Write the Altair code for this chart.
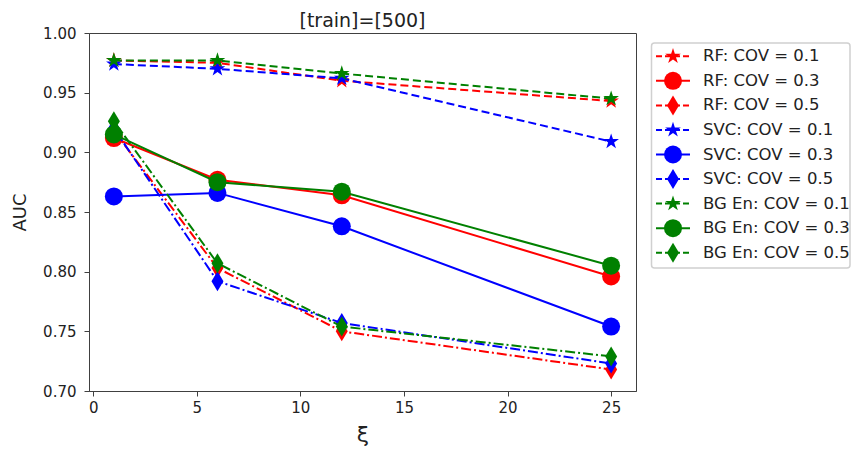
import altair as alt
import pandas as pd
import numpy as np

# ---- data ----
xi = [1, 6, 12, 25]
series_names = [
    "RF: COV = 0.1", "RF: COV = 0.3", "RF: COV = 0.5",
    "SVC: COV = 0.1", "SVC: COV = 0.3", "SVC: COV = 0.5",
    "BG En: COV = 0.1", "BG En: COV = 0.3", "BG En: COV = 0.5",
]
rf_01 = [0.977, 0.975, 0.960, 0.943]
rf_03 = [0.912, 0.877, 0.864, 0.796]
rf_05 = [0.918, 0.803, 0.750, 0.718]
svc_01 = [0.974, 0.970, 0.962, 0.909]
svc_03 = [0.863, 0.866, 0.838, 0.754]
svc_05 = [0.920, 0.792, 0.757, 0.723]
bg_01 = [0.977, 0.977, 0.966, 0.945]
bg_03 = [0.915, 0.875, 0.867, 0.805]
bg_05 = [0.926, 0.807, 0.754, 0.729]
values = [rf_01, rf_03, rf_05, svc_01, svc_03, svc_05, bg_01, bg_03, bg_05]

x_ticks = [0, 5, 10, 15, 20, 25]
y_ticks = [0.70, 0.75, 0.80, 0.85, 0.90, 0.95, 1.00]

rows = []
for name, vals in zip(series_names, values):
    for x, v in zip(xi, vals):
        rows.append({"series": name, "xi": x, "auc": v})
df = pd.DataFrame(rows)

# ---- marker shapes ----
ang_o = np.deg2rad(-90 + 72 * np.arange(5))
ang_i = np.deg2rad(-90 + 36 + 72 * np.arange(5))
pts = []
for k in range(5):
    pts.append((np.cos(ang_o[k]), np.sin(ang_o[k])))
    pts.append((0.382 * np.cos(ang_i[k]), 0.382 * np.sin(ang_i[k])))
STAR = "M" + "L".join(f"{px:.3f},{py:.3f}" for px, py in pts) + "Z"
THIN_DIAMOND = "M0,-1L0.6,0L0,1L-0.6,0Z"

colors = {"RF": "#ff0000", "SVC": "#0000ff", "BG": "#008000"}
DASH = [8, 4]
DASHDOT = [10, 3, 2, 3]

def style(name):
    col = colors[name.split(":")[0].split(" ")[0]]
    if name.endswith("0.1"):
        return col, DASH, STAR, 270
    if name.endswith("0.3"):
        return col, None, "circle", 324
    return col, DASHDOT, THIN_DIAMOND, 400

FONT = "DejaVu Sans"

X = alt.X("xi:Q", scale=alt.Scale(domain=[-0.2, 26.2], nice=False, zero=False),
          axis=alt.Axis(values=x_ticks, title="ξ", titleFontSize=22, titlePadding=9,
                        labelPadding=4))
Y = alt.Y("auc:Q", scale=alt.Scale(domain=[0.70, 1.00], nice=False, zero=False),
          axis=alt.Axis(values=y_ticks, format=".2f", title="AUC", titleFontSize=18,
                        titlePadding=13, labelPadding=8))

base = alt.Chart(df)
layers = []
for name in series_names:
    col, dash, shape, size = style(name)
    sub = base.transform_filter(alt.datum.series == name)
    if dash is None:
        line = sub.mark_line(color=col, strokeWidth=2)
    else:
        line = sub.mark_line(color=col, strokeWidth=2, strokeDash=dash)
    layers.append(line.encode(x=X, y=Y))
    layers.append(sub.mark_point(filled=True, color=col, shape=shape, size=size,
                                 opacity=1).encode(x=X, y=Y))

main = alt.layer(*layers).properties(
    width=547, height=358,
    title=alt.TitleParams("[train]=[500]", fontSize=19, fontWeight="normal",
                          font=FONT, color="#222222", offset=-5),
)

# ---- legend (drawn as its own small chart) ----
leg_df = pd.DataFrame({"series": series_names})
box_df = pd.DataFrame({"k": [0]})
yenc = alt.Y("series:N", sort=series_names,
             scale=alt.Scale(domain=series_names, range=[11, 232]),
             axis=None)
leg_layers = [
    alt.Chart(box_df).mark_rect(fill="white", stroke="#d0d0d0", strokeWidth=1.5,
                                cornerRadius=3).encode(
        x=alt.value(0.5), x2=alt.value(199), y=alt.value(10), y2=alt.value(235))
]
for name in series_names:
    col, dash, shape, size = style(name)
    sub = alt.Chart(leg_df).transform_filter(alt.datum.series == name)
    if dash is None:
        rule = sub.mark_rule(color=col, strokeWidth=2)
    else:
        rule = sub.mark_rule(color=col, strokeWidth=2, strokeDash=[6, 3])
    leg_layers.append(rule.encode(x=alt.value(5), x2=alt.value(39), y=yenc))
    leg_layers.append(sub.mark_point(filled=True, color=col, shape=shape, size=size,
                                     opacity=1).encode(x=alt.value(22), y=yenc))
leg_layers.append(
    alt.Chart(leg_df).mark_text(align="left", baseline="middle", fontSize=16.5,
                                font=FONT, color="#222222").encode(
        x=alt.value(52), y=yenc, text="series:N")
)
legend = alt.layer(*leg_layers).properties(
    width=200, height=358, view=alt.ViewBackground(stroke="transparent")
)

chart = alt.hconcat(main, legend, spacing=15, bounds="flush").properties(
    padding={"left": 11, "top": 11, "right": 0, "bottom": 0},
    background="white",
).configure_view(
    stroke="#404040", strokeWidth=1
).configure_axis(
    grid=False, domainColor="#404040", tickColor="#404040", tickSize=5,
    labelFont=FONT, labelFontSize=15, labelColor="#222222",
    titleFont=FONT, titleFontWeight="normal", titleColor="#222222",
)

chart.save("out.html", embed_options={"renderer": "svg", "actions": False})
